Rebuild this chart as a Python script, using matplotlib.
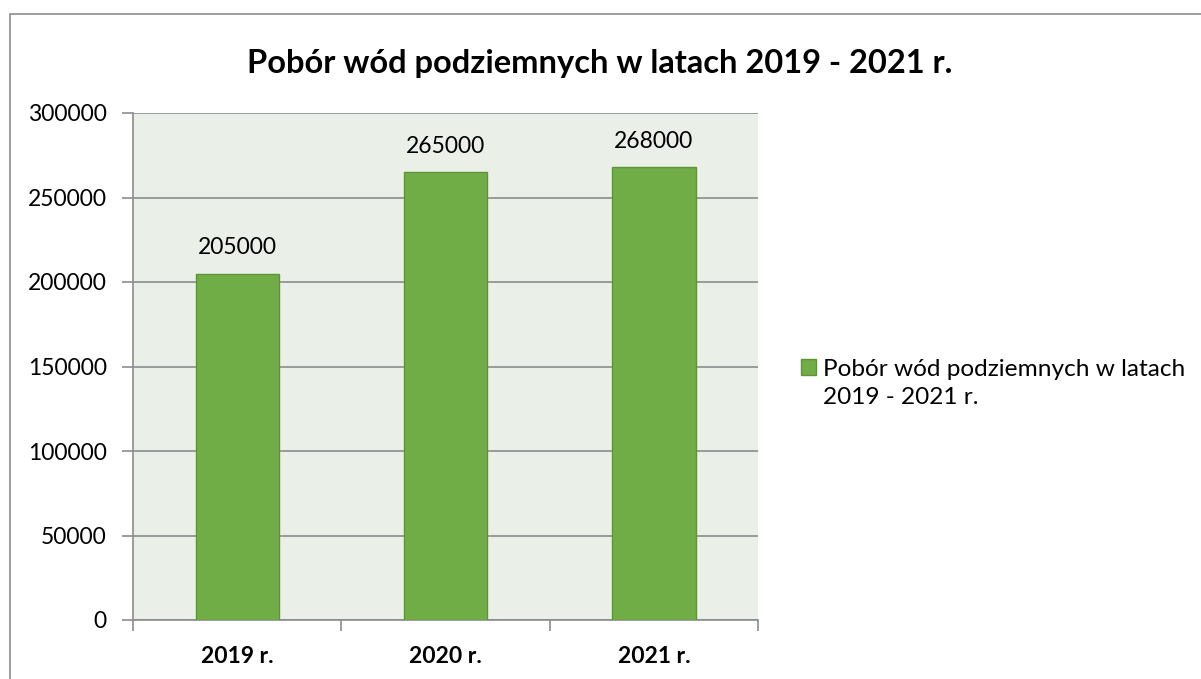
import matplotlib
matplotlib.use("Agg")
import matplotlib.pyplot as plt
from matplotlib.patches import Rectangle

categories = ["2019 r.", "2020 r.", "2021 r."]
values = [205000, 265000, 268000]
yticks = [0, 50000, 100000, 150000, 200000, 250000, 300000]
title = "Pobór wód podziemnych w latach 2019 - 2021 r."
legend_label = "Pobór wód podziemnych w latach\n2019 - 2021 r."

FONT = ["Lato", "DejaVu Sans"]
plt.rcParams['font.family'] = FONT

W, H = 1201, 679
fig = plt.figure(figsize=(W/100, H/100), dpi=100)
border = Rectangle((10/W, -0.5), 1.5, 1 - 14/H + 0.5, transform=fig.transFigure,
                   fill=False, edgecolor="#8c8c8c", linewidth=1.2)
fig.patches.append(border)

left, right, top, bottom = 133, 758, 113, 620
ax = fig.add_axes([left/W, 1 - bottom/H, (right-left)/W, (bottom-top)/H])
ax.set_facecolor("#EAEFE8")

x = range(len(categories))
bars = ax.bar(x, values, width=0.40, color="#70AD47", edgecolor="#5E9437", linewidth=1, zorder=3)
ax.set_xlim(-0.5, len(categories) - 0.5)
ax.set_ylim(0, 300000)
ax.set_yticks(yticks)
ax.set_yticklabels([str(v) for v in yticks], fontsize=16.5)
ax.yaxis.grid(True, color="#8c8c8c", linewidth=1.2, zorder=0)
ax.set_axisbelow(True)

ax.set_xticks(list(x))
ax.set_xticklabels(categories, fontsize=16.5, fontweight="bold")
ax.set_xticks([-0.5, 0.5, 1.5, 2.5], minor=True)
ax.tick_params(axis="x", which="major", length=0, pad=19)
ax.tick_params(axis="x", which="minor", length=8, color="#8c8c8c", width=1.2)
ax.tick_params(axis="y", length=8, color="#8c8c8c", width=1.2, pad=11)

for s in ["top", "right"]:
    ax.spines[s].set_visible(False)
for s in ["left", "bottom"]:
    ax.spines[s].set_color("#8c8c8c")
    ax.spines[s].set_linewidth(1.2)

for i, v in enumerate(values):
    ax.annotate(str(v), (i, v), xytext=(0, 11), textcoords="offset points",
                ha="center", va="bottom", fontsize=16.5)

fig.text(600/W, 1 - 63/H, title, ha="center", va="center", fontsize=23.5, fontweight="bold")

leg = fig.legend([bars], [legend_label], loc="upper left", bbox_to_anchor=(801/W, 1 - 359/H),
                 frameon=False, fontsize=17.6, handlelength=0.6, handleheight=0.6,
                 handletextpad=0.3, borderpad=0, labelspacing=0, borderaxespad=0)
for t in leg.get_texts():
    t.set_linespacing(1.4)
for col in leg._legend_handle_box.get_children():
    for hp in col.get_children():
        hp.align = "top"

fig.savefig("out.png", dpi=100)
